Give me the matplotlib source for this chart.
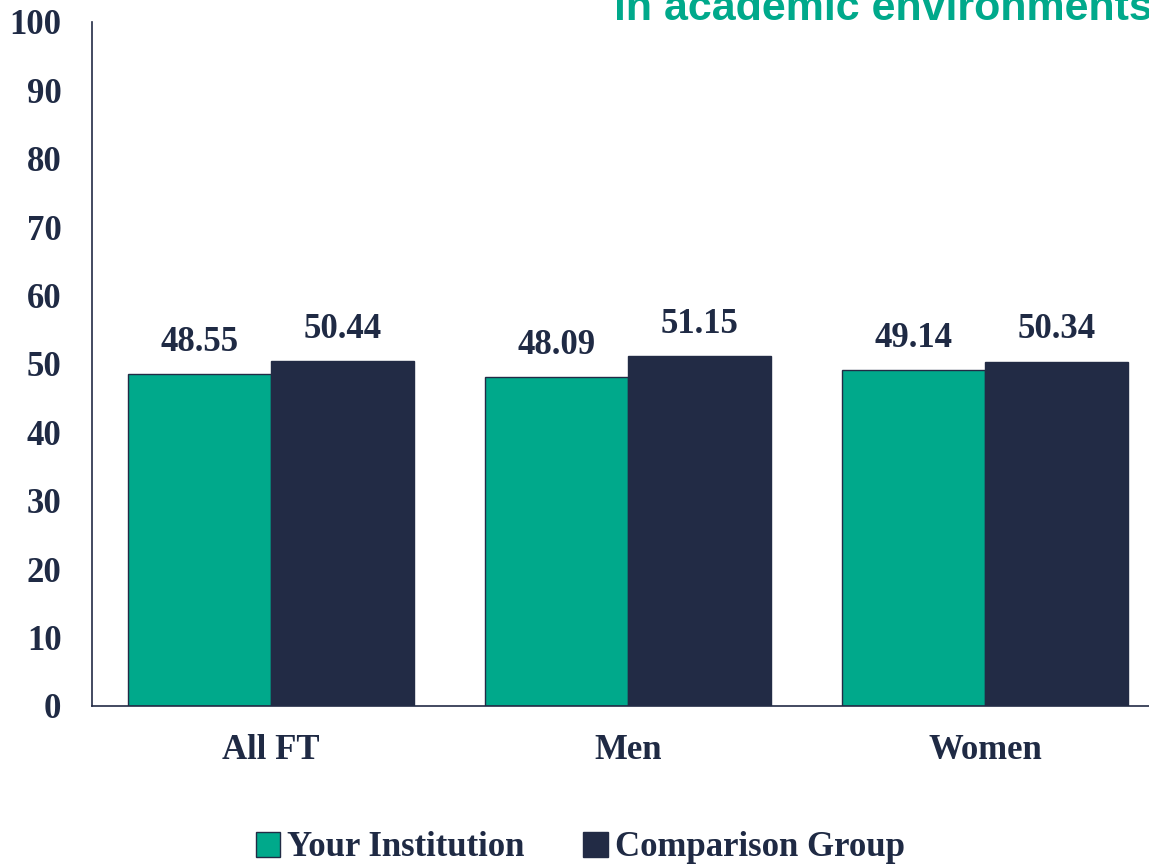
import numpy as np
import matplotlib
matplotlib.use("Agg")
import matplotlib.pyplot as plt
import matplotlib.patches as mpatches

categories = ["All FT", "Men", "Women"]
your_institution = [48.55, 48.09, 49.14]
comparison_group = [50.44, 51.15, 50.34]
series_names = ["Your Institution", "Comparison Group"]

green = "#00A98B"
navy = "#222B45"
text_col = "#1F2A44"

plt.rcParams['font.family'] = ['Liberation Serif', 'DejaVu Serif']
fs = 25

fig = plt.figure(figsize=(11.49, 8.67), dpi=100)
W, H = 1149, 867
x_left, x_right = 92, 1164
y_top, y_bot = 22, 706
ax = fig.add_axes([x_left / W, 1 - y_bot / H, (x_right - x_left) / W, (y_bot - y_top) / H])

x = np.arange(len(categories))
w = 0.4
b1 = ax.bar(x - w / 2, your_institution, w, color=green, edgecolor=navy, linewidth=1.0)
b2 = ax.bar(x + w / 2, comparison_group, w, color=navy, edgecolor=navy, linewidth=1.0)

for bars in (b1, b2):
    for r in bars:
        ax.annotate(f"{r.get_height():.2f}", (r.get_x() + r.get_width() / 2, r.get_height()),
                    xytext=(0, 11), textcoords="offset points", ha="center", va="bottom",
                    fontsize=fs, fontweight="bold", color=text_col)

ax.set_xlim(-0.5, 2.5)
ax.set_ylim(0, 100)
ax.set_yticks(range(0, 101, 10))
ax.set_xticks(x)
ax.set_xticklabels(categories)
ax.tick_params(axis="both", length=0, labelsize=fs, labelcolor=text_col)
ax.tick_params(axis="y", pad=22)
ax.tick_params(axis="x", pad=20)
for lab in ax.get_xticklabels() + ax.get_yticklabels():
    lab.set_fontweight("bold")
for s in ["top", "right"]:
    ax.spines[s].set_visible(False)
for s in ["left", "bottom"]:
    ax.spines[s].set_color(navy)
    ax.spines[s].set_linewidth(1.2)

handles = [mpatches.Patch(facecolor=green, edgecolor=navy, label=series_names[0]),
           mpatches.Patch(facecolor=navy, edgecolor=navy, label=series_names[1])]
leg = fig.legend(handles=handles, loc="center", bbox_to_anchor=(0.505, 1 - 848 / H), ncol=2,
                 frameon=False, prop={"size": fs, "weight": "bold"}, handlelength=0.7,
                 handleheight=0.7, handletextpad=0.2, columnspacing=1.7)
for t in leg.get_texts():
    t.set_color(text_col)

fig.text(1.003, 1 - 20 / H, "in academic environments", ha="right", va="baseline",
         fontsize=31, fontweight="bold", color=green, family=["Liberation Sans", "DejaVu Sans"])

fig.savefig("out.png", dpi=100)
